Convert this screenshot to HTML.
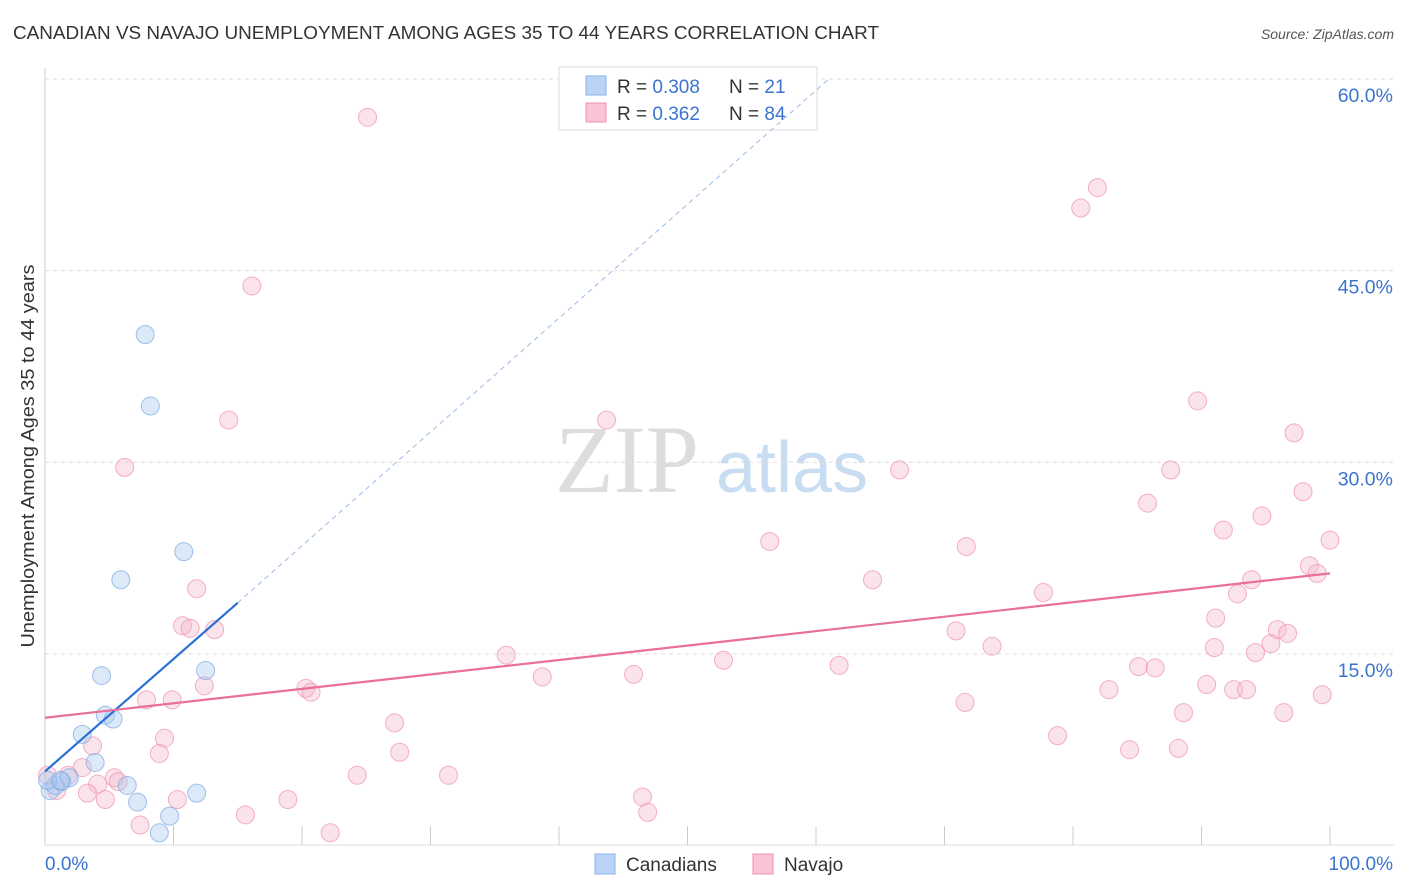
<!DOCTYPE html>
<html><head><meta charset="utf-8"><style>
body{margin:0;background:#fff;font-family:"Liberation Sans",sans-serif;}
</style></head><body>
<svg id="chart" width="1406" height="892" xmlns="http://www.w3.org/2000/svg" style="display:block">
<text x="13" y="39" font-size="18" fill="#333" textLength="866" lengthAdjust="spacingAndGlyphs">CANADIAN VS NAVAJO UNEMPLOYMENT AMONG AGES 35 TO 44 YEARS CORRELATION CHART</text>
<text x="1394" y="39" font-size="14" font-style="italic" fill="#555" text-anchor="end">Source: ZipAtlas.com</text>
<g>
<text x="555" y="492" font-size="96" font-family="Liberation Serif,serif" fill="#ddd">ZIP</text>
<text x="716" y="492" font-size="72" fill="#c8dcf2">atlas</text>
</g>
<g id="grid"></g>
<g id="axes"></g>
<g id="trends"></g>
<g id="pts"></g>
<text transform="translate(34,456) rotate(-90)" font-size="18" fill="#333" text-anchor="middle" textLength="383" lengthAdjust="spacingAndGlyphs">Unemployment Among Ages 35 to 44 years</text>
<g>
<rect x="559" y="67" width="258" height="63" fill="#fff" stroke="#ddd"/>
<rect x="586" y="76" width="20" height="19" fill="#b9d4f6" stroke="#8ab4e8"/>
<rect x="586" y="103" width="20" height="19" fill="#f9c4d4" stroke="#f090b0"/>
<text x="617" y="93" font-size="19" fill="#333">R = <tspan fill="#3a74d0">0.308</tspan></text>
<text x="729" y="93" font-size="19" fill="#333">N = <tspan fill="#3a74d0"> 21</tspan></text>
<text x="617" y="120" font-size="19" fill="#333">R = <tspan fill="#3a74d0"> 0.362</tspan></text>
<text x="729" y="120" font-size="19" fill="#333">N = <tspan fill="#3a74d0">84</tspan></text>
</g>
<g>
<rect x="595" y="854" width="20" height="20" fill="#b9d4f6" stroke="#8ab4e8"/>
<text x="626" y="871" font-size="19" fill="#333">Canadians</text>
<rect x="753" y="854" width="20" height="20" fill="#f9c4d4" stroke="#f090b0"/>
<text x="784" y="871" font-size="19" fill="#333">Navajo</text>
</g>
</svg>
<script>
const yTicks=[15,30,45,60];
const yTickLabels=["15.0%","30.0%","45.0%","60.0%"];
const xTicks=[0,10,20,30,40,50,60,70,80,90,100];
const canX=[0.4,0.8,1.3,1.9,2.9,3.9,4.4,4.7,5.3,5.9,6.4,7.2,7.8,8.2,8.9,9.7,10.8,11.8,12.5,0.2,1.2];
const canY=[4.3,4.7,5.0,5.3,8.7,6.5,13.3,10.2,9.9,20.8,4.7,3.4,40.0,34.4,1.0,2.3,23.0,4.1,13.7,5.1,5.1];
const navX=[25.1,16.1,81.9,80.6,14.3,43.7,6.2,89.7,97.2,66.5,87.6,85.8,97.9,94.7,91.7,100,56.4,71.7,98.4,99.0,93.9,64.4,92.8,77.7,11.8,91.1,10.7,11.3,13.2,70.9,95.9,96.7,95.4,94.2,91.0,73.7,35.9,52.8,61.8,85.1,86.4,45.8,38.7,90.4,92.5,93.5,82.8,99.4,20.3,20.7,12.4,7.9,9.9,71.6,88.6,96.4,27.2,9.3,3.7,78.8,84.4,88.2,8.9,27.6,2.9,1.8,5.4,24.3,31.4,5.7,4.1,3.3,0.9,4.7,10.3,18.9,46.5,46.9,15.6,7.4,22.2,0.2];
const navY=[57.0,43.8,51.5,49.9,33.3,33.3,29.6,34.8,32.3,29.4,29.4,26.8,27.7,25.8,24.7,23.9,23.8,23.4,21.9,21.3,20.8,20.8,19.7,19.8,20.1,17.8,17.2,17.0,16.9,16.8,16.9,16.6,15.8,15.1,15.5,15.6,14.9,14.5,14.1,14.0,13.9,13.4,13.2,12.6,12.2,12.2,12.2,11.8,12.3,12.0,12.5,11.4,11.4,11.2,10.4,10.4,9.6,8.4,7.8,8.6,7.5,7.6,7.2,7.3,6.1,5.5,5.3,5.5,5.5,5.0,4.8,4.1,4.3,3.6,3.6,3.6,3.8,2.6,2.4,1.6,1.0,5.5];
const canTrend=[[0,5.8],[15,19.0]];
const canTrendExt=[[15,19.0],[61,60]];
const navTrend=[[0,10.0],[100,21.3]];
const X=v=>45+v*12.85, Y=v=>845.5-v*12.775;
const NS="http://www.w3.org/2000/svg";
function mk(p,t,a){const e=document.createElementNS(NS,t);for(const k in a)e.setAttribute(k,a[k]);document.getElementById(p).appendChild(e);return e;}
yTicks.forEach((t,i)=>{
 const l=mk('grid','line',{x1:45,x2:1394,y1:Y(t),y2:Y(t),stroke:'#ddd','stroke-dasharray':'4,4'});
 
 
 const tx=mk('grid','text',{x:1393,y:Y(t)+23,'font-size':19.5,fill:'#3a74d0','text-anchor':'end'});
 tx.textContent=yTickLabels[i];
 
 
});
mk('axes','line',{x1:45,x2:45,y1:68,y2:845,stroke:'#ccc'});
mk('axes','line',{x1:45,x2:1394,y1:845,y2:845,stroke:'#ddd'});
xTicks.forEach(t=>{const l=mk('axes','line',{x1:X(t),x2:X(t),y1:826,y2:845,stroke:'#ccc'});
 
 });
let a=mk('axes','text',{x:45,y:870,'font-size':19,fill:'#3a74d0'});a.textContent='0.0%';

let b=mk('axes','text',{x:1393,y:870,'font-size':19,fill:'#3a74d0','text-anchor':'end'});b.textContent='100.0%';

function dot(x,y,f,s,n){const c=mk('pts','circle',{cx:X(x),cy:Y(y),r:9,fill:f,'fill-opacity':0.4,stroke:s,'stroke-width':1,'stroke-opacity':0.7});
 
 }
navX.forEach((x,i)=>dot(x,navY[i],'#f6b8cc','#f090b0','navajo-point'));
canX.forEach((x,i)=>dot(x,canY[i],'#a8c8f0','#7aa8e0','canadian-point'));
const t1=mk('trends','line',{x1:X(canTrend[0][0]),y1:Y(canTrend[0][1]),x2:X(canTrend[1][0]),y2:Y(canTrend[1][1]),stroke:'#2a6fd6','stroke-width':2.2});

const t2=mk('trends','line',{x1:X(canTrendExt[0][0]),y1:Y(canTrendExt[0][1]),x2:X(canTrendExt[1][0]),y2:Y(canTrendExt[1][1]),stroke:'#9bbbe6','stroke-width':1,'stroke-dasharray':'5,4'});

const t3=mk('trends','line',{x1:X(navTrend[0][0]),y1:Y(navTrend[0][1]),x2:X(navTrend[1][0]),y2:Y(navTrend[1][1]),stroke:'#e8709a','stroke-width':2.2});

document.getElementById('chart').appendChild(document.getElementById('trends'));
</script>
</body></html>
